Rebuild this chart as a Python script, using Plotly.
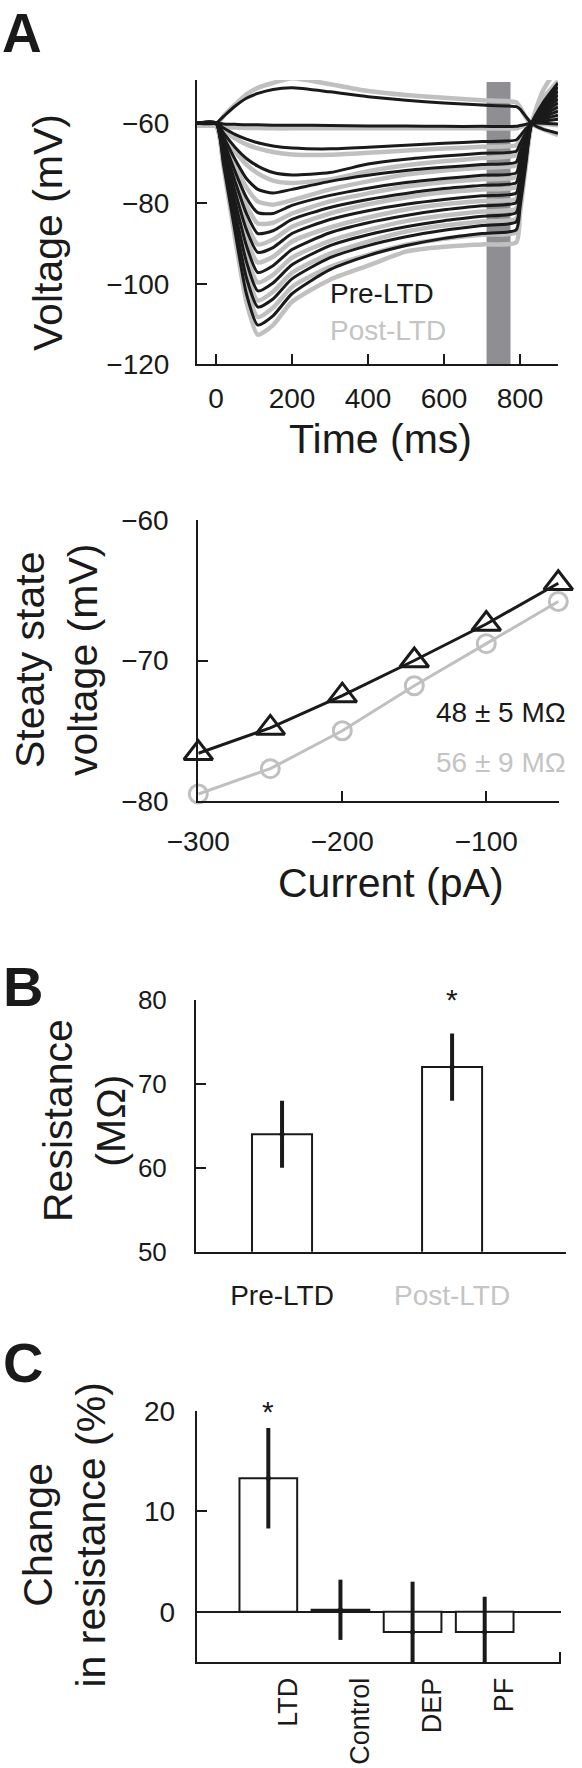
import plotly.graph_objects as go

W, H = 582, 1768
FONT = "Liberation Sans, Arial, Helvetica, sans-serif"
BLACK = "#1a1a1a"
GRAY = "#c0c0c0"
LABEL_GRAY = "#c4c4c4"
BAR_GRAY = "#8f8f93"

# ---------------- Panel A (top): voltage traces ----------------
T_MS = [-50, 0, 20, 50, 80, 110, 150, 200, 300, 400, 500, 600, 700, 790, 800, 815, 830, 860, 900]

PRE_TRACES = [
    [-60, -60, -58.3, -55.8, -53.8, -52.6, -51.6, -51.2, -52.2, -53.4, -54.3, -55.0, -55.5, -55.9, -56.5, -58.3, -60.0, -61.5, -62.5],
    [-60, -60, -60.2, -60.3, -60.4, -60.4, -60.5, -60.5, -60.6, -60.7, -60.7, -60.8, -60.8, -60.8, -60.6, -60.3, -60.0, -60.0, -60.2],
    [-60, -60, -61.2, -62.8, -64.0, -64.9, -65.7, -66.2, -66.4, -66.0, -65.5, -65.0, -64.6, -64.2, -63.2, -61.5, -60.3, -59.5, -59.0],
    [-60, -60, -62.5, -66.0, -68.8, -70.7, -72.3, -72.9, -72.3, -70.2, -69.0, -68.2, -67.5, -67.0, -65.2, -62.5, -60.3, -59.0, -58.0],
    [-60, -60, -63.5, -69.0, -73.8, -76.5, -77.4, -76.5, -74.5, -73.0, -71.8, -71.0, -70.3, -69.7, -67.0, -63.5, -60.3, -58.5, -57.0],
    [-60, -60, -64.5, -72.0, -78.5, -82.3, -82.5, -80.5, -78.0, -76.2, -74.8, -73.8, -73.0, -72.4, -69.0, -64.5, -60.3, -58.0, -56.0],
    [-60, -60, -65.5, -74.5, -82.5, -87.5, -86.8, -84.0, -81.0, -79.0, -77.5, -76.3, -75.5, -74.8, -71.0, -65.5, -60.3, -57.5, -55.0],
    [-60, -60, -66.5, -77.0, -86.5, -92.2, -91.0, -87.5, -84.0, -81.8, -80.2, -79.0, -78.1, -77.4, -73.0, -66.5, -60.3, -57.0, -54.0],
    [-60, -60, -67.5, -79.5, -90.5, -97.2, -95.5, -91.5, -87.3, -84.8, -83.0, -81.6, -80.6, -79.8, -75.0, -67.5, -60.3, -56.5, -53.0],
    [-60, -60, -68.5, -82.0, -94.5, -101.8, -99.8, -95.3, -90.5, -87.8, -85.8, -84.3, -83.2, -82.3, -77.0, -68.5, -60.3, -56.0, -52.0],
    [-60, -60, -69.5, -84.5, -98.5, -105.8, -103.8, -98.8, -93.5, -90.5, -88.3, -86.7, -85.5, -84.6, -79.0, -69.5, -60.3, -55.5, -51.0],
    [-60, -60, -70.5, -87.0, -102.5, -110.3, -108.0, -102.5, -96.5, -93.0, -90.5, -88.7, -87.5, -86.6, -81.0, -70.5, -60.3, -55.0, -50.0],
]

POST_TRACES = [
    [-60.5, -60.5, -58.2, -55.4, -52.8, -51.2, -50.0, -48.8, -50.3, -52.0, -53.0, -53.7, -54.3, -54.8, -56.0, -58.5, -60.2, -61.5, -63.0],
    [-60.6, -60.6, -60.9, -61.1, -61.2, -61.2, -61.3, -61.3, -61.3, -61.3, -61.3, -61.3, -61.3, -61.3, -61.0, -60.6, -60.2, -60.2, -60.5],
    [-60.6, -60.6, -61.8, -63.8, -65.3, -66.3, -67.2, -67.8, -67.9, -67.4, -66.8, -66.3, -65.9, -65.5, -64.2, -62.0, -60.3, -59.3, -58.5],
    [-60.6, -60.6, -63.0, -67.0, -70.3, -72.5, -74.3, -74.9, -74.0, -72.0, -70.5, -69.5, -68.7, -68.0, -66.0, -63.0, -60.3, -58.5, -57.0],
    [-60.6, -60.6, -64.0, -70.5, -76.0, -79.5, -80.3, -79.2, -76.5, -74.5, -72.8, -71.8, -71.1, -70.5, -67.5, -64.0, -60.3, -58.0, -56.0],
    [-60.6, -60.6, -65.0, -73.5, -80.5, -85.0, -84.8, -82.5, -79.5, -77.5, -75.8, -74.7, -74.0, -73.4, -69.8, -65.0, -60.3, -57.5, -55.0],
    [-60.6, -60.6, -66.0, -76.0, -84.8, -90.2, -89.0, -85.8, -82.5, -80.2, -78.5, -77.2, -76.5, -75.9, -71.5, -66.0, -60.3, -57.0, -54.0],
    [-60.6, -60.6, -67.0, -78.5, -88.8, -94.7, -93.3, -89.5, -86.0, -83.5, -81.5, -80.2, -79.4, -78.8, -74.0, -67.0, -60.3, -56.5, -53.0],
    [-60.6, -60.6, -68.0, -81.0, -92.8, -99.7, -97.8, -93.5, -89.3, -86.6, -84.4, -83.0, -82.0, -81.3, -76.0, -68.0, -60.3, -55.8, -52.0],
    [-60.6, -60.6, -69.0, -83.5, -96.8, -104.2, -102.0, -97.3, -92.5, -89.5, -87.0, -85.5, -84.5, -83.8, -78.0, -69.0, -60.3, -55.0, -51.0],
    [-60.6, -60.6, -70.0, -86.0, -100.8, -108.3, -106.0, -100.8, -95.8, -92.8, -90.3, -88.8, -87.8, -87.2, -80.5, -70.0, -60.3, -54.0, -49.5],
    [-60.6, -60.6, -71.0, -88.5, -104.5, -112.7, -110.3, -104.5, -99.0, -95.5, -92.0, -90.8, -90.2, -89.7, -82.5, -71.0, -60.3, -52.0, -46.0],
]

WINDOW_MS = [712, 775]
A1_XTICKS = [0, 200, 400, 600, 800]
A1_YTICKS = [-120, -100, -80, -60]

# ---------------- Panel A (bottom): I-V ----------------
CURRENT_PA = [-300, -250, -200, -150, -100, -50]
PRE_SS_MV = [-76.6, -74.8, -72.5, -70.0, -67.4, -64.5]
POST_SS_MV = [-79.5, -77.7, -75.0, -71.8, -68.8, -65.8]
PRE_R_TEXT = "48 ± 5 MΩ"
POST_R_TEXT = "56 ± 9 MΩ"

# ---------------- Panel B ----------------
B_LABELS = ["Pre-LTD", "Post-LTD"]
B_MEAN = [64.0, 72.0]
B_SEM = [4.0, 4.0]

# ---------------- Panel C ----------------
C_LABELS = ["LTD", "Control", "DEP", "PF"]
C_MEAN = [13.3, 0.2, -2.0, -2.0]
C_SEM = [5.0, 3.0, 5.0, 3.5]


def px(x):
    return x / W


def py(y):
    return 1 - y / H


def neg(v):
    return ("−" + str(abs(v))) if v < 0 else str(v)


fig = go.Figure()

for v in POST_TRACES:
    fig.add_trace(go.Scatter(x=T_MS, y=v, mode="lines", xaxis="x", yaxis="y",
                             line=dict(color=GRAY, width=4.5, shape="spline", smoothing=0.6),
                             showlegend=False, hoverinfo="skip"))
for v in PRE_TRACES:
    fig.add_trace(go.Scatter(x=T_MS, y=v, mode="lines", xaxis="x", yaxis="y",
                             line=dict(color=BLACK, width=3, shape="spline", smoothing=0.6),
                             showlegend=False, hoverinfo="skip"))

fig.add_trace(go.Scatter(x=CURRENT_PA, y=POST_SS_MV, mode="lines+markers", xaxis="x2", yaxis="y2",
                         line=dict(color=GRAY, width=3),
                         marker=dict(symbol="circle-open", size=18, color=GRAY, line=dict(width=3, color=GRAY)),
                         cliponaxis=False, showlegend=False, hoverinfo="skip"))
fig.add_trace(go.Scatter(x=CURRENT_PA, y=PRE_SS_MV, mode="lines+markers", xaxis="x2", yaxis="y2",
                         line=dict(color=BLACK, width=3),
                         marker=dict(symbol="triangle-up-open", size=25, color=BLACK, line=dict(width=3, color=BLACK)),
                         cliponaxis=False, showlegend=False, hoverinfo="skip"))

B_X = list(range(len(B_LABELS)))
fig.add_trace(go.Bar(x=B_X, y=B_MEAN, width=0.353, xaxis="x3", yaxis="y3",
                     marker=dict(color="white", line=dict(color=BLACK, width=2)),
                     showlegend=False, hoverinfo="skip"))
fig.add_trace(go.Scatter(x=B_X, y=B_MEAN, mode="markers", xaxis="x3", yaxis="y3",
                         marker=dict(color=BLACK, size=5),
                         error_y=dict(type="data", array=B_SEM, thickness=4, width=0, color=BLACK),
                         showlegend=False, hoverinfo="skip"))

C_X = list(range(len(C_LABELS)))
fig.add_trace(go.Bar(x=C_X, y=C_MEAN, width=0.8, xaxis="x4", yaxis="y4",
                     marker=dict(color="white", line=dict(color=BLACK, width=2)),
                     showlegend=False, hoverinfo="skip"))
fig.add_trace(go.Scatter(x=C_X, y=C_MEAN, mode="markers", xaxis="x4", yaxis="y4",
                         marker=dict(color=BLACK, size=5),
                         error_y=dict(type="data", array=C_SEM, thickness=4, width=0, color=BLACK),
                         showlegend=False, hoverinfo="skip"))

axis_common = dict(showline=True, linecolor=BLACK, linewidth=2, showgrid=False, zeroline=False,
                   ticks="inside", ticklen=10, tickwidth=2, tickcolor=BLACK, automargin=False,
                   tickfont=dict(family=FONT, size=28, color=BLACK), fixedrange=True)

layout_axes = dict(
    xaxis=dict(axis_common, domain=[px(197), px(558)], range=[-50, 900], anchor="y",
               tickvals=A1_XTICKS, ticktext=[neg(v) for v in A1_XTICKS], ticklabelstandoff=8),
    yaxis=dict(axis_common, domain=[py(364), py(80)], range=[-120, -49.25], anchor="x",
               tickvals=A1_YTICKS, ticktext=[neg(v) for v in A1_YTICKS], ticklabelstandoff=20),
    xaxis2=dict(axis_common, domain=[px(198.3), px(559.3)], range=[-300, -49.3], anchor="y2",
                tickvals=[-300, -200, -100], ticktext=["−300", "−200", "−100"], ticklabelstandoff=14),
    yaxis2=dict(axis_common, domain=[py(801), py(520)], range=[-80, -60], anchor="x2",
                tickvals=[-80, -70, -60], ticktext=["−80", "−70", "−60"], ticks="",
                minor=dict(tickvals=[-70], ticks="inside", ticklen=10, tickwidth=2, tickcolor=BLACK),
                ticklabelstandoff=22),
    xaxis3=dict(axis_common, domain=[px(196), px(566)], range=[-0.506, 1.67], anchor="y3",
                tickvals=B_X, ticks="",
                ticktext=[B_LABELS[0], "<span style='color:%s'>%s</span>" % (LABEL_GRAY, B_LABELS[1])],
                ticklabelstandoff=18),
    yaxis3=dict(axis_common, domain=[py(1251.7), py(1000)], range=[50, 80], anchor="x3",
                tickvals=[50, 60, 70, 80], tickfont=dict(family=FONT, size=26, color=BLACK),
                ticklabelstandoff=22),
    xaxis4=dict(axis_common, domain=[px(196.7), px(561)], range=[-0.993, 4.058], anchor="y4",
                tickvals=C_X, ticktext=C_LABELS, ticks="", tickangle=-90,
                tickfont=dict(family=FONT, size=27, color=BLACK), ticklabelstandoff=3,
                ticklabelshift=20,
                minor=dict(tickvals=[4.05], ticks="inside", ticklen=10, tickwidth=2, tickcolor=BLACK)),
    yaxis4=dict(axis_common, domain=[py(1662), py(1411)], range=[-5, 20], anchor="x4",
                tickvals=[0, 10, 20], zeroline=True, zerolinecolor=BLACK, zerolinewidth=1.5,
                ticklabelstandoff=14),
)


def ann(text, x, y, size=41, angle=0, color=BLACK, xanchor="center", yanchor="middle", bold=False):
    return dict(text=("<b>%s</b>" % text) if bold else text, x=px(x), y=py(y), xref="paper", yref="paper",
                showarrow=False, textangle=angle, xanchor=xanchor, yanchor=yanchor,
                font=dict(family=FONT, size=size, color=color))


annotations = [
    ann("A", 0, 0, size=55, xanchor="left", yanchor="top", bold=True),
    ann("B", 1, 986, size=56, xanchor="left", bold=True),
    ann("C", 1, 1362, size=56, xanchor="left", bold=True),
    ann("Voltage (mV)", 48, 233, angle=-90),
    ann("Time (ms)", 380, 439),
    ann("Pre-LTD", 328, 294, size=28, xanchor="left"),
    ann("Post-LTD", 328, 330, size=28, xanchor="left", color=LABEL_GRAY),
    ann("Steaty state<br>voltage (mV)", 56, 660, angle=-90),
    ann("Current (pA)", 391, 883),
    ann(PRE_R_TEXT, 568, 712, size=28, xanchor="right"),
    ann(POST_R_TEXT, 568, 762, size=28, xanchor="right", color=LABEL_GRAY),
    ann("Resistance<br>(MΩ)", 84, 1120, angle=-90),
    ann("*", 452, 999, size=30),
    ann("Change<br>in resistance (%)", 63.5, 1535, angle=-90),
    ann("*", 268, 1411, size=30),
]

shapes = [
    dict(type="rect", xref="x", yref="paper", x0=WINDOW_MS[0], x1=WINDOW_MS[1],
         y0=py(366), y1=py(82), fillcolor=BAR_GRAY, line=dict(width=0), layer="below"),
]

fig.update_layout(
    template="none",
    width=W, height=H, margin=dict(l=0, r=0, t=0, b=0, pad=0), autosize=False,
    paper_bgcolor="white", plot_bgcolor="rgba(0,0,0,0)",
    font=dict(family=FONT, color=BLACK),
    showlegend=False, bargap=0,
    annotations=annotations, shapes=shapes,
    **layout_axes,
)

fig.write_html("out.html", config={"displayModeBar": False, "staticPlot": True},
               post_script="document.body.style.margin='0px';document.body.style.overflow='hidden';")
